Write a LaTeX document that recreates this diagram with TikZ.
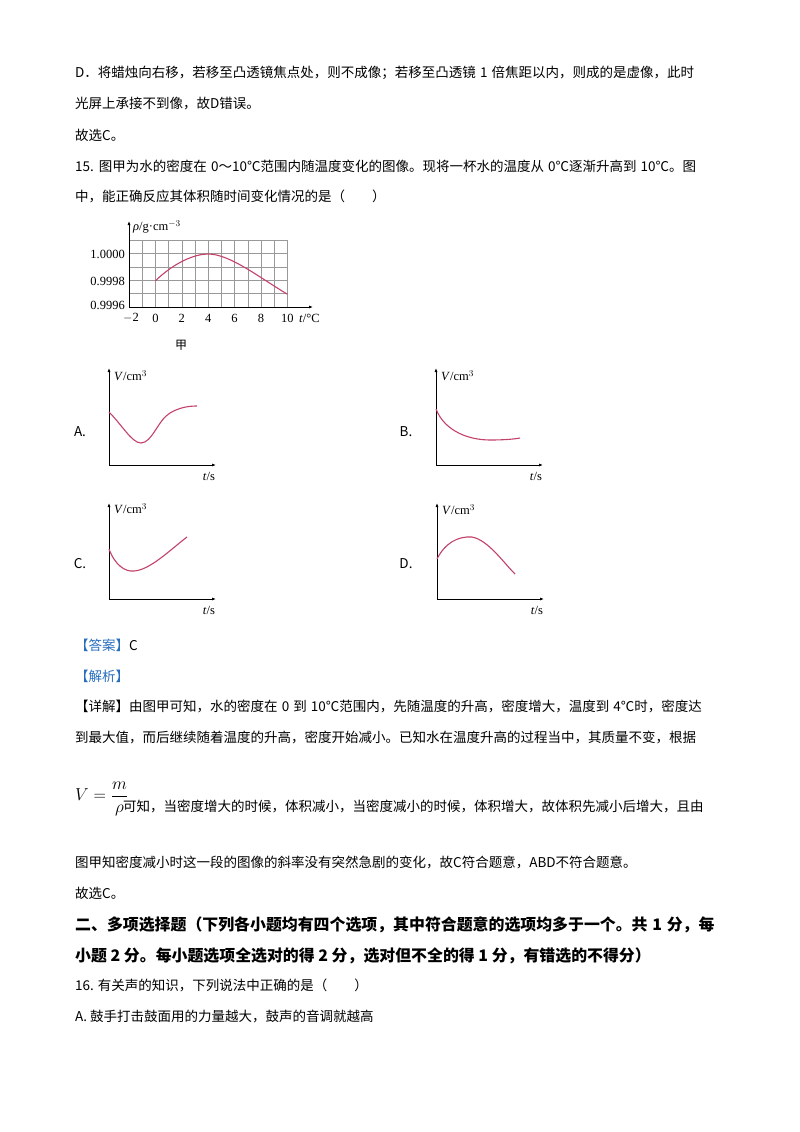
\documentclass[tikz,border=0pt]{standalone}
\usepackage{fontspec}
\setmainfont{Liberation Serif}
\newfontfamily\cjk{Noto Sans CJK SC}
\usetikzlibrary{arrows.meta}
\XeTeXlinebreaklocale "zh"
\XeTeXlinebreakskip=0pt plus 2pt
\definecolor{curv}{RGB}{196,66,105}
\definecolor{tagblue}{RGB}{40,110,190}
\newcommand{\jline}[2]{\hbox to #1{\spaceskip=0.3em\relax #2}}
\begin{document}
\begin{tikzpicture}[x=1pt,y=-1pt,
  txt/.style={anchor=west,inner sep=0pt,font=\fontsize{13.5}{14}\cjk},
  lbl/.style={inner sep=0pt,font=\fontsize{12.5}{13}\selectfont},
  ax/.style={line width=0.8pt,-{Latex[length=4pt,width=3pt]}},
  cv/.style={curv,line width=1.1pt}]
\useasboundingbox[fill=white] (0,0) rectangle (800,1132);
\node[txt] (l1) at (75,73) {\jline{640pt}{D．将蜡烛向右移，若移至凸透镜焦点处，则不成像；若移至凸透镜 1 倍焦距以内，则成的是虚像，此时}};
\node[txt] (l2) at (75,104) {光屏上承接不到像，故D错误。};
\node[txt] (l3) at (75,135) {故选C。};
\node[txt] (l4) at (75,166) {\jline{640pt}{15. 图甲为水的密度在 0～10℃范围内随温度变化的图像。现将一杯水的温度从 0℃逐渐升高到 10℃。图}};
\node[txt] (l5) at (75,196) {中，能正确反应其体积随时间变化情况的是（　　）};
% graph jia
\foreach \i in {0,...,12} \draw[gray!80,line width=0.5pt] (129+13.2*\i,240)--(129+13.2*\i,307);
\foreach \j in {0,...,5} \draw[gray!80,line width=0.5pt] (129,240+13.4*\j)--(287,240+13.4*\j);
\draw[ax] (129,307)--(129,221);
\draw[ax] (129,307)--(313,307);
\node[lbl,anchor=west] (ry) at (133,227) {\textit{ρ}/g·cm$^{-3}$};
\node[lbl,anchor=east] (y1) at (125,254) {1.0000};
\node[lbl,anchor=east] (y2) at (125,281) {0.9998};
\node[lbl,anchor=east] (y3) at (125,305) {0.9996};
\foreach \v/\n in {0/0,2/2,4/4,6/6,8/8,10/10}
  \node[lbl] at (155.4+13.2*\v,318) {\n};
\node[lbl] at (131,318) {$-$2};
\node[lbl,anchor=west] (tx) at (299,318) {\textit{t}/°C};
\node[txt,anchor=center] (jia) at (181,345) {\fontsize{12}{12}\cjk 甲};
\draw[cv] (155.4,280.8) .. controls (175,262) and (195,254) .. (208.2,254) .. controls (230,254) and (260,278) .. (287.4,294.2);
% A
\draw[ax] (109,465)--(109,368);
\draw[ax] (109,465)--(216,465);
\node[lbl,anchor=west] at (114,376) {\textit{V}/cm$^3$};
\node[lbl] at (209,476) {\textit{t}/s};
\node[txt,anchor=center] at (80,432) {A.};
\draw[cv] (109,412) .. controls (122,425) and (132,443) .. (141,443) .. controls (152,443) and (158,420) .. (170,413) .. controls (180,407) and (190,406) .. (197,406);
% B
\draw[ax] (436,465)--(436,368);
\draw[ax] (436,465)--(543,465);
\node[lbl,anchor=west] at (441,376) {\textit{V}/cm$^3$};
\node[lbl] at (536,476) {\textit{t}/s};
\node[txt,anchor=center] at (406,432) {B.};
\draw[cv] (436,409) .. controls (445,432) and (470,440) .. (490,440) .. controls (505,440) and (515,439) .. (520,438);
% C
\draw[ax] (109,599)--(109,503);
\draw[ax] (109,599)--(216,599);
\node[lbl,anchor=west] at (114,509) {\textit{V}/cm$^3$};
\node[lbl] at (209,610) {\textit{t}/s};
\node[txt,anchor=center] at (80,564) {C.};
\draw[cv] (109,549) .. controls (115,565) and (125,572) .. (134,571) .. controls (150,570) and (170,550) .. (187,537);
% D
\draw[ax] (437,599)--(437,503);
\draw[ax] (437,599)--(544,599);
\node[lbl,anchor=west] at (442,510) {\textit{V}/cm$^3$};
\node[lbl] at (537,610) {\textit{t}/s};
\node[txt,anchor=center] at (406,564) {D.};
\draw[cv] (437,559) .. controls (445,543) and (458,536) .. (472,537) .. controls (488,540) and (503,562) .. (515,574);
% answer
\node[txt] (ans) at (75,645) {\textcolor{tagblue}{【答案】}C};
\node[txt] (jx) at (75,676) {\textcolor{tagblue}{【解析】}};
\node[txt] (d1) at (75,706) {\jline{640pt}{【详解】由图甲可知，水的密度在 0 到 10℃范围内，先随温度的升高，密度增大，温度到 4℃时，密度达}};
\node[txt] (d2) at (75,737) {\jline{640pt}{到最大值，而后继续随着温度的升高，密度开始减小。已知水在温度升高的过程当中，其质量不变，根据}};
\node[anchor=west,inner sep=0pt,font=\fontsize{16}{16}\selectfont] (fm) at (75,799) {$\displaystyle V=\frac{m}{\rho}$};
\node[txt,anchor=west] (d3) at (123,806) {\jline{592pt}{可知，当密度增大的时候，体积减小，当密度减小的时候，体积增大，故体积先减小后增大，且由}};
\node[txt] (d4) at (75,862) {图甲知密度减小时这一段的图像的斜率没有突然急剧的变化，故C符合题意，ABD不符合题意。};
\node[txt] (d5) at (75,893) {故选C。};
\node[txt,font=\fontsize{15.9}{17}\cjk\bfseries] (h1) at (75,925) {\jline{643pt}{二、多项选择题（下列各小题均有四个选项，其中符合题意的选项均多于一个。共 1 分，每}};
\node[txt,font=\fontsize{15.9}{17}\cjk\bfseries] (h2) at (75,956) {小题 2 分。每小题选项全选对的得 2 分，选对但不全的得 1 分，有错选的不得分）};
\node[txt] (q16) at (75,985) {16. 有关声的知识，下列说法中正确的是（　　）};
\node[txt] (qa) at (75,1016) {A. 鼓手打击鼓面用的力量越大，鼓声的音调就越高};
\end{tikzpicture}
\end{document}
